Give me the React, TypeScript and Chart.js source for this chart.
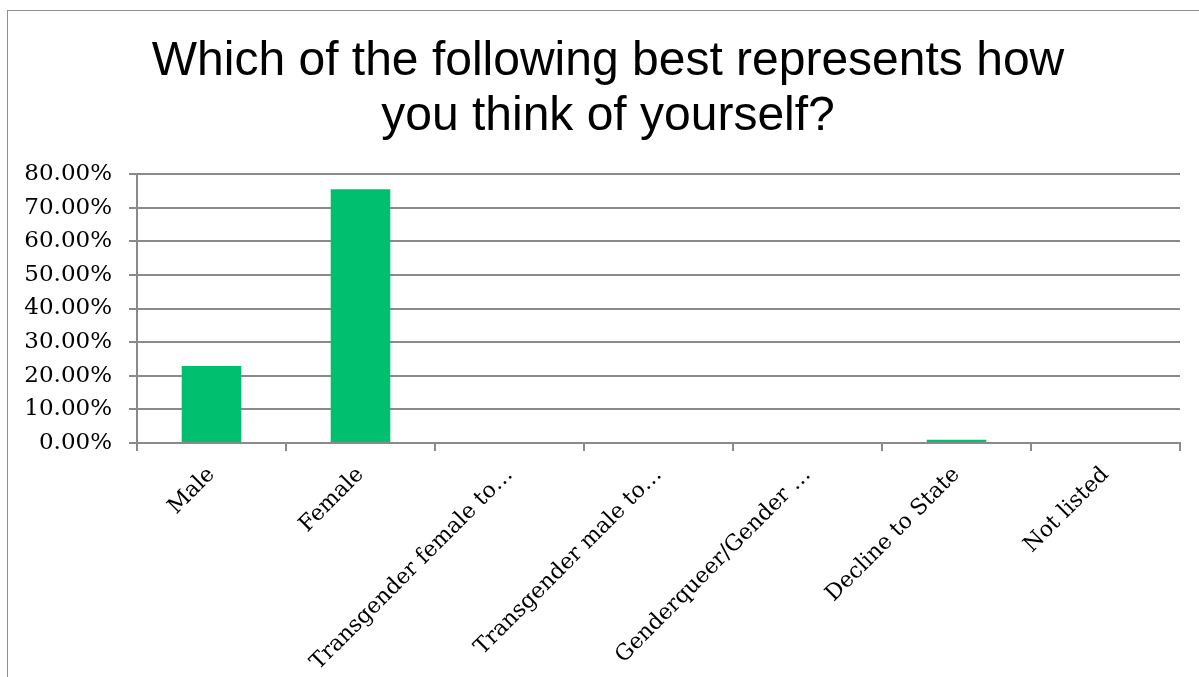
import React, { useEffect, useRef } from "react";
import { Chart, registerables } from "chart.js";

Chart.register(...registerables);

const titleLines = ["Which of the following best represents how", "you think of yourself?"];
const categories = [
  "Male",
  "Female",
  "Transgender female to…",
  "Transgender male to…",
  "Genderqueer/Gender …",
  "Decline to State",
  "Not listed",
];
const values = [22.9, 75.5, 0, 0, 0, 1.0, 0];
const yTicks = [0, 10, 20, 30, 40, 50, 60, 70, 80];

const titleShift = {
  id: "titleShift",
  afterLayout(chart: any) {
    const t = chart.titleBlock;
    if (t) {
      t.left += 28;
    }
  },
};

export default function App() {
  const ref = useRef<HTMLCanvasElement | null>(null);
  useEffect(() => {
    if (!ref.current) return;
    const gridColor = "#8a8a8a";
    const chart = new Chart(ref.current, {
      type: "bar",
      plugins: [titleShift],
      data: {
        labels: categories,
        datasets: [
          {
            data: values,
            backgroundColor: "#00BF6F",
            borderWidth: 0,
            categoryPercentage: 1,
            barPercentage: 0.4,
          },
        ],
      },
      options: {
        responsive: false,
        animation: false,
        layout: { padding: { top: 0, right: 19, bottom: 0, left: 0 } },
        plugins: {
          legend: { display: false },
          tooltip: { enabled: false },
          title: {
            display: true,
            text: titleLines,
            color: "#000",
            font: { family: "'Liberation Sans', Arial, sans-serif", size: 48, weight: "normal", lineHeight: 55 / 48 },
            padding: { top: 23, bottom: 30 },
          },
        },
        scales: {
          x: {
            offset: true,
            grid: {
              offset: true,
              drawOnChartArea: false,
              drawTicks: true,
              tickLength: 8,
              color: gridColor,
              lineWidth: 2,
            },
            border: { display: true, color: gridColor, width: 2 },
            ticks: {
              autoSkip: false,
              maxRotation: 45,
              minRotation: 45,
              padding: 11,
              color: "#000",
              font: { family: "'DejaVu Serif', serif", size: 22 },
            },
            afterFit: (scale: any) => {
              scale.height = 234;
            },
          },
          y: {
            min: 0,
            max: 80,
            afterBuildTicks: (scale: any) => {
              scale.ticks = yTicks.map((v) => ({ value: v }));
            },
            grid: {
              color: gridColor,
              lineWidth: 2,
              drawTicks: true,
              tickLength: 8,
            },
            border: { display: true, color: gridColor, width: 2 },
            ticks: {
              padding: 17,
              color: "#000",
              font: { family: "'DejaVu Serif', serif", size: 23 },
              callback: (v: any) => Number(v).toFixed(2) + "%",
            },
            afterFit: (scale: any) => {
              scale.width = 129;
            },
          },
        },
      },
    });
    return () => chart.destroy();
  }, []);
  return (
    <div
      style={{
        position: "absolute",
        left: 7,
        top: 10,
        width: 1250,
        height: 700,
        borderLeft: "1px solid #8f8f8f",
        borderTop: "1px solid #8f8f8f",
        background: "#fff",
      }}
    >
      <canvas ref={ref} width={1191} height={666} style={{ display: "block" }} />
    </div>
  );
}
